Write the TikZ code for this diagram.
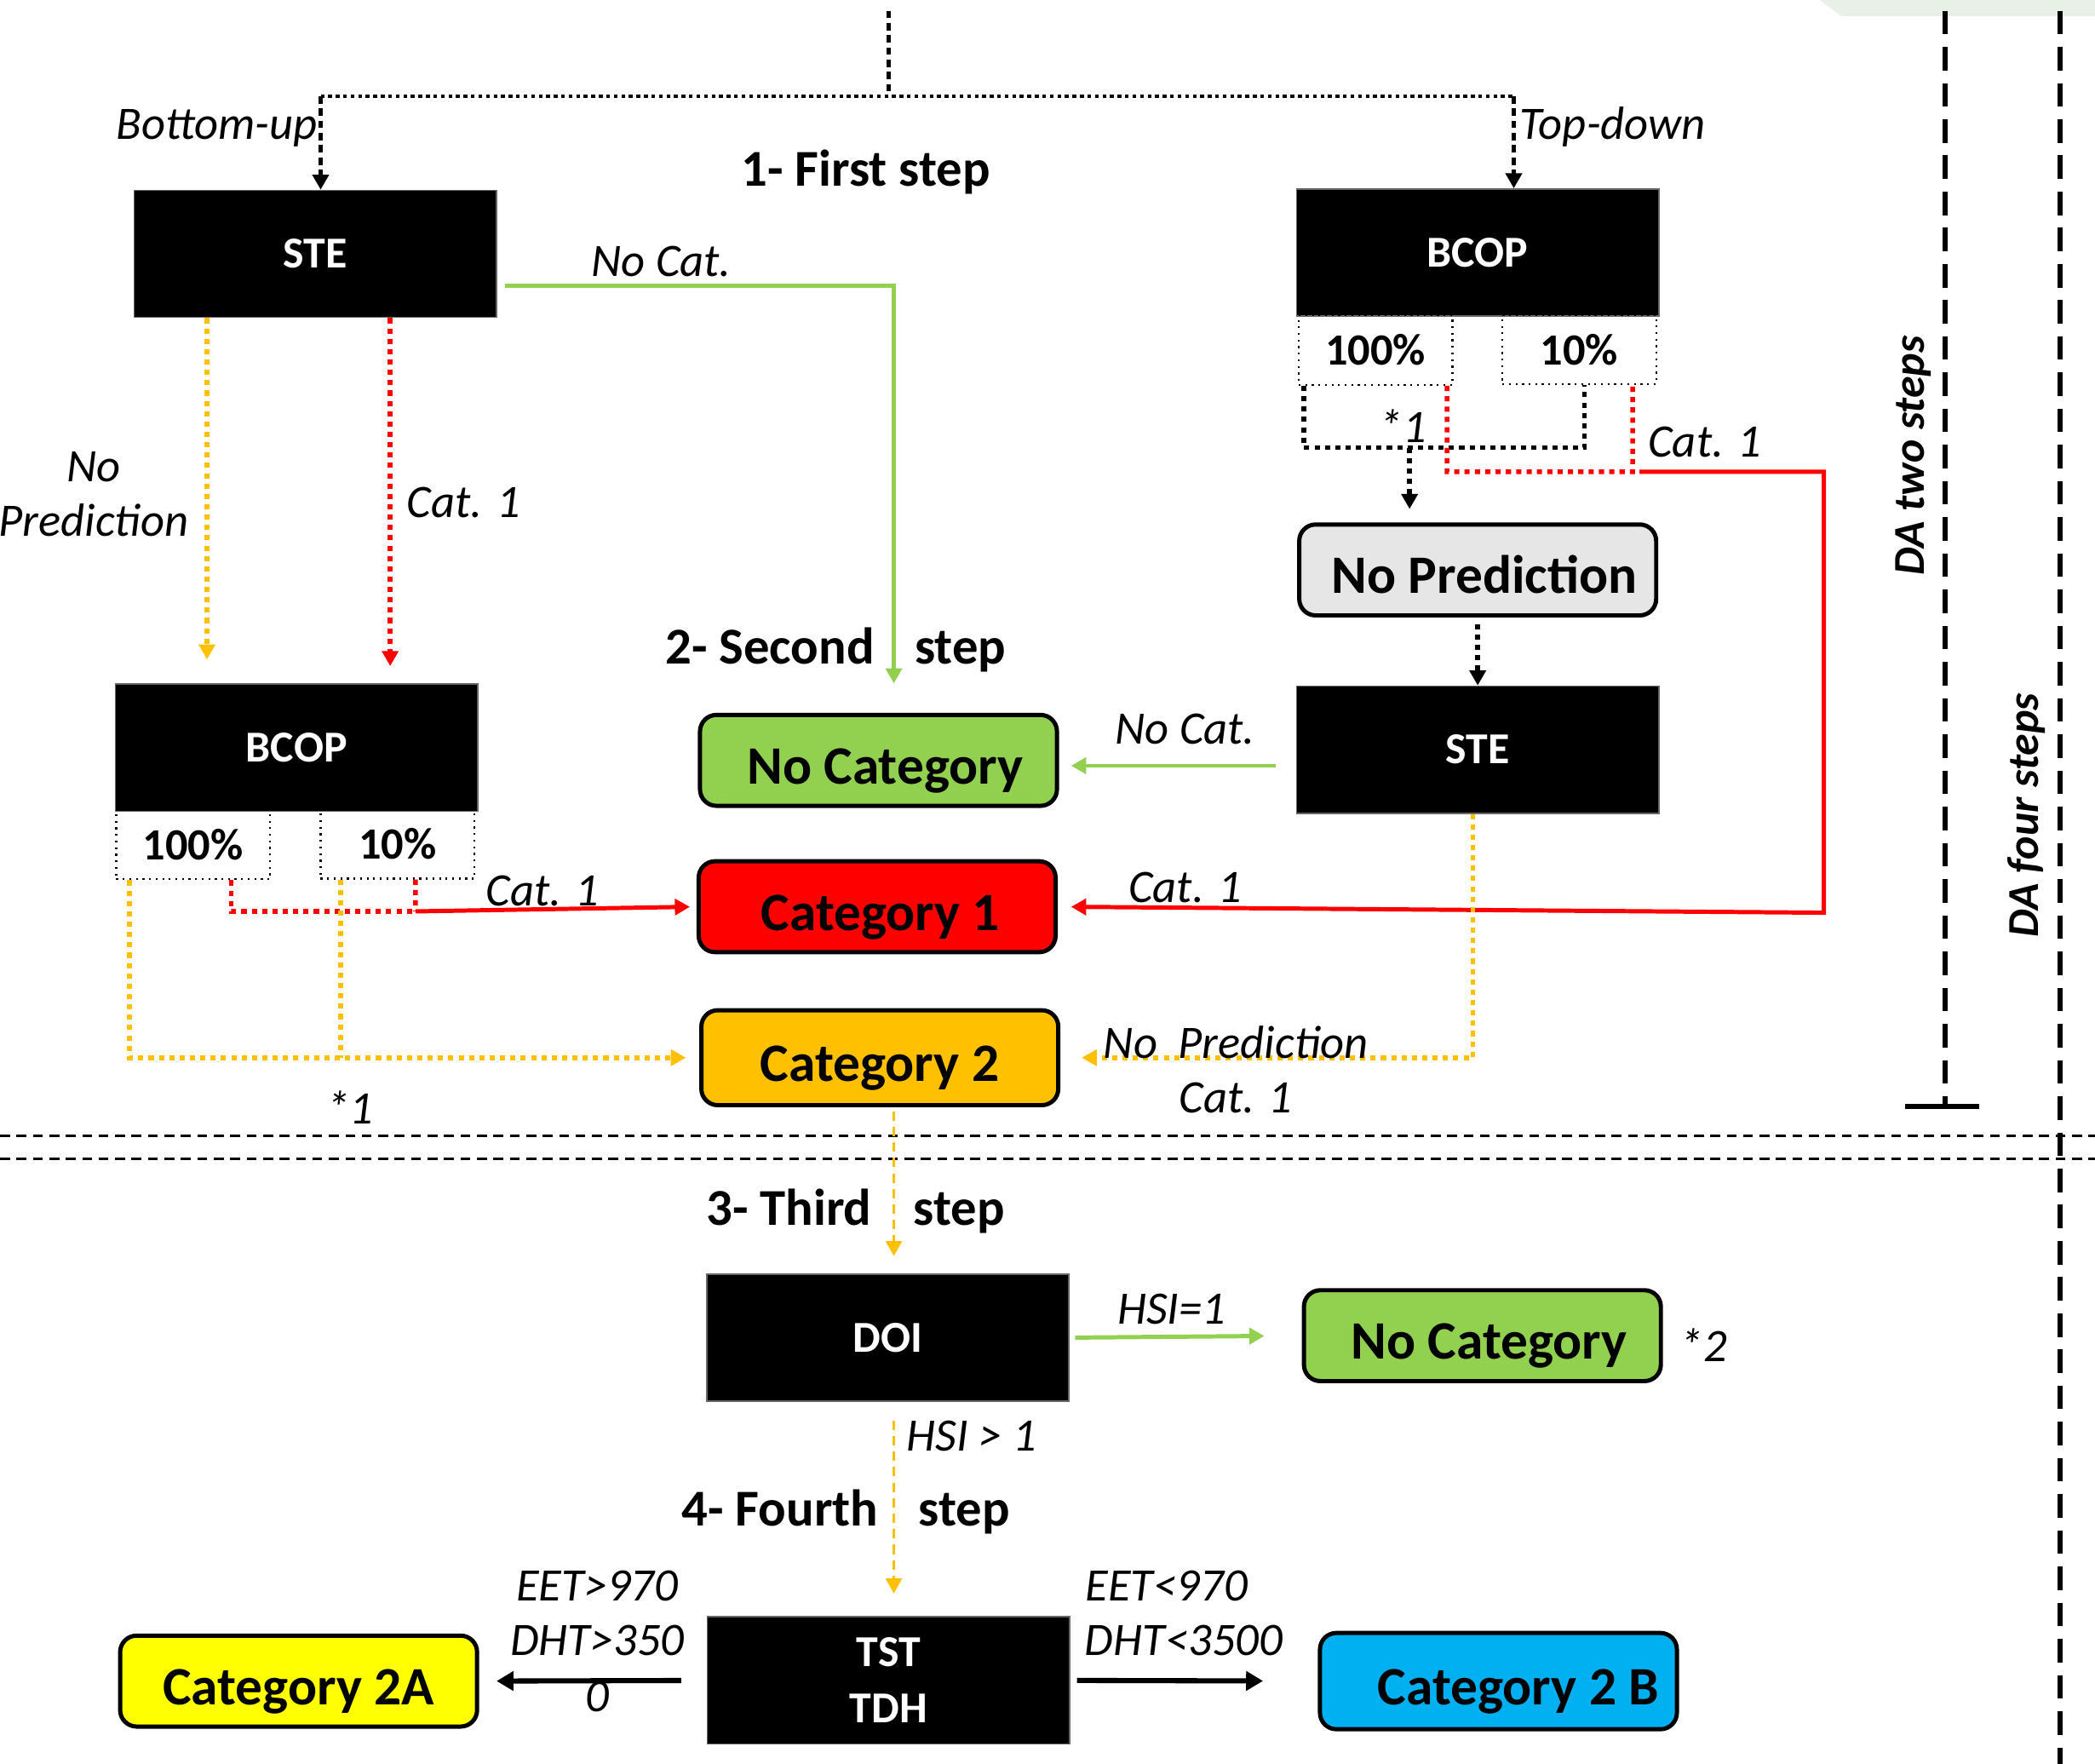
\documentclass[tikz,border=0pt]{standalone}
\usepackage{fontspec}
\setmainfont{Carlito}
\usepackage{xcolor}
\usetikzlibrary{arrows.meta}
\definecolor{catgreen}{HTML}{92D050}
\definecolor{catred}{HTML}{FF0000}
\definecolor{catorange}{HTML}{FFC000}
\definecolor{catyellow}{HTML}{FFFF00}
\definecolor{catblue}{HTML}{00B0F0}
\definecolor{npgray}{HTML}{E6E6E6}
\definecolor{blobgreen}{HTML}{E8F1E6}

\begin{document}
\begin{tikzpicture}[x=0.01cm, y=-0.01cm, >={Triangle[length=3.2pt,width=3.4pt]},
  blackbox/.style={fill=black, draw=black!60, line width=0.3pt, text=white, font=\bfseries\fontsize{9.4}{12}\selectfont, align=center, minimum width=2.71cm, minimum height=0.95cm, inner sep=0pt},
  pctbox/.style={draw, densely dotted, line width=0.4pt, font=\bfseries\fontsize{9.5}{11}\selectfont, minimum width=1.15cm, minimum height=0.52cm, inner sep=0pt},
  catbox/.style={draw, line width=0.9pt, rounded corners=3.5pt, font=\bfseries\fontsize{11.5}{13}\selectfont, minimum width=2.67cm, minimum height=0.68cm, inner sep=0pt, text height=10pt, text depth=0pt},
  lbl/.style={font=\itshape\fontsize{9.9}{11.6}\selectfont, inner sep=0pt},
  stephead/.style={font=\bfseries\fontsize{11}{13}\selectfont, inner sep=0pt},
  dalbl/.style={font=\bfseries\itshape\fontsize{9.4}{11}\selectfont, rotate=90, inner sep=0pt},
  greenline/.style={draw=catgreen, line width=0.9pt},
  redline/.style={draw=catred, line width=0.9pt},
  reddot/.style={draw=catred, line width=1pt, dash pattern=on 1.1pt off 1.1pt},
  orangedot/.style={draw=catorange, line width=1pt, dash pattern=on 1.1pt off 1.1pt},
  orangedash/.style={draw=catorange, line width=0.6pt, dash pattern=on 2pt off 1.3pt},
  blackdot/.style={draw=black, line width=1pt, dash pattern=on 1.1pt off 1.1pt},
  topdot/.style={draw=black, line width=0.8pt, dash pattern=on 0.8pt off 0.8pt},
  blackdash/.style={draw=black, line width=0.9pt, dash pattern=on 1.6pt off 1pt},
  sepline/.style={draw=black, line width=0.5pt, dash pattern=on 2.1pt off 1.4pt},
  daline/.style={draw=black, line width=1.1pt, dash pattern=on 5pt off 2.7pt},
  bigarrow/.style={draw=black, line width=1.1pt, -{Triangle[length=3.6pt,width=4pt]}}
]
\useasboundingbox (0,0) rectangle (1568,1320);
\fill[blobgreen] (1362,0) -- (1378,12) -- (1568,12) -- (1568,0) -- cycle;

% boxes of the first two steps
\node[blackbox] (steL) at (236,190) {STE};
\node[blackbox] (bcopR) at (1106,189) {BCOP};
\node[pctbox] (pR100) at (1029.5,262) {100\%};
\node[pctbox] (pR10) at (1182,261.5) {10\%};
\node[catbox, fill=npgray] (noPred) at (1106,426.5) {\hspace*{0.1cm}No Prediction};
\node[blackbox] (steR) at (1106,561) {STE};
\node[blackbox] (bcopL) at (222,559.5) {BCOP};
\node[pctbox] (pL100) at (144.5,632) {100\%};
\node[pctbox] (pL10) at (297.5,631.5) {10\%};
\node[catbox, fill=catgreen] (noCat1) at (657.5,569) {\hspace*{0.1cm}No Category};
\node[catbox, fill=catred] (cat1) at (656.5,678.5) {\hspace*{0.05cm}Category 1};
\node[catbox, fill=catorange, minimum height=0.71cm] (cat2) at (658.5,791.5) {Category 2};

% boxes of steps 3 and 4
\node[blackbox] (doi) at (664.5,1001) {DOI};
\node[catbox, fill=catgreen] (noCat2) at (1109.5,999.5) {\hspace*{0.1cm}No Category};
\node[blackbox] (tst) at (665,1257.5) {TST\\TDH};
\node[catbox, fill=catyellow] (cat2A) at (223.5,1258) {Category 2A};
\node[catbox, fill=catblue, minimum height=0.72cm] (cat2B) at (1121.5,1258) {\hspace*{0.3cm}Category 2 B};

% step titles
\node[stephead, anchor=base] (step1) at (648,139) {1- First step};
\node[stephead, anchor=base east] (step2) at (655,497) {2- Second};
\node[stephead, anchor=base west] (step2b) at (684,497) {step};
\node[stephead, anchor=base east] (step3) at (653,917) {3- Third};
\node[stephead, anchor=base west] (step3b) at (683,917) {step};
\node[stephead, anchor=base east] (step4) at (658,1142) {4- Fourth};
\node[stephead, anchor=base west] (step4b) at (687,1142) {step};

% split at the top
\coordinate (topIn) at (665,8);
\coordinate (split) at (665,72);
\coordinate (buCorner) at (240,72);
\coordinate (tdCorner) at (1133,72);
\draw[blackdash] (topIn) -- (split);
\draw[topdot] (buCorner) -- (tdCorner);
\draw[blackdash, ->] (buCorner) -- (buCorner |- steL.north);
\draw[blackdash, ->] (tdCorner) -- (tdCorner |- bcopR.north);
\node[lbl, anchor=base east] (buLbl) at (238,104) {Bottom-up};
\node[lbl, anchor=base west] (tdLbl) at (1137,104) {Top-down};

% bottom-up branch
\draw[greenline, ->, shorten <=0.06cm, shorten >=0.22cm] ([yshift=-0.24cm]steL.east) -| ([xshift=0.115cm]noCat1.north);
\node[lbl, anchor=base] (noCatL) at (495,207) {No Cat.};
\draw[orangedot, ->, shorten >=0.18cm] ([xshift=-0.81cm]steL.south) -- ([xshift=-0.81cm]steL.south |- bcopL.north);
\draw[reddot, ->, shorten >=0.13cm] ([xshift=0.56cm]steL.south) -- ([xshift=0.56cm]steL.south |- bcopL.north);
\node[lbl, align=center] (noPredL) at (70,370) {No\\Prediction};
\node[lbl, anchor=base] (cat1La) at (347,387) {Cat. 1};

\coordinate (redJoinL) at (311,682);
\draw[reddot] ([xshift=0.285cm]pL100.south) |- (redJoinL);
\draw[reddot] ([xshift=0.135cm]pL10.south) -- (redJoinL);
\draw[redline, ->, shorten >=0.05cm] (redJoinL) -- (cat1.west);
\node[lbl, anchor=base] (cat1Lb) at (406,678) {Cat. 1};
\draw[orangedot, ->, shorten >=0.1cm] ([xshift=-0.475cm]pL100.south) |- (cat2.west);
\draw[orangedot] ([xshift=-0.425cm]pL10.south) -- ([xshift=-0.425cm]pL10.south |- cat2.west);
\node[lbl, anchor=base] (starL) at (262,841) {*1};

% top-down branch
\coordinate (blkJoin) at (1055,335);
\draw[blackdot] ([xshift=-0.535cm]pR100.south) |- (blkJoin) -| ([xshift=0.04cm]pR10.south);
\draw[blackdot, ->, shorten >=0.1cm] (blkJoin) -- (blkJoin |- noPred.north);
\node[lbl, anchor=base] (starR) at (1050,331) {*1};
\coordinate (redJoinR) at (1222,353);
\coordinate (redTurn) at (1365,683);
\draw[reddot] ([xshift=0.535cm]pR100.south) |- (redJoinR) -- ([xshift=0.4cm]pR10.south);
\draw[redline, ->, shorten <=0.05cm, shorten >=0.1cm] (redJoinR) -| (redTurn) -- (cat1.east);
\node[lbl, anchor=base] (cat1Lc) at (1276,342) {Cat. 1};
\node[lbl, anchor=base] (cat1Ld) at (887,675) {Cat. 1};
\draw[blackdot, ->, shorten <=0.05cm] (noPred.south) -- (steR.north);
\draw[greenline, ->, shorten <=0.15cm, shorten >=0.09cm] ([yshift=-0.12cm]steR.west) -- ([yshift=-0.12cm]steR.west -| noCat1.east);
\node[lbl, anchor=base] (noCatR) at (887,557) {No Cat.};
\draw[orangedot, ->, shorten >=0.16cm] ([xshift=-0.035cm]steR.south) |- (cat2.east);
\node[lbl, anchor=base] (noPredR) at (925,792) {No\ \ Prediction};
\node[lbl, anchor=base] (cat1Le) at (925,833) {Cat. 1};

% separators
\coordinate (sepAL) at (0,850);
\coordinate (sepAR) at (1568,850);
\coordinate (sepBL) at (0,867);
\coordinate (sepBR) at (1568,867);
\draw[sepline] (sepAL) -- (sepAR);
\draw[sepline] (sepBL) -- (sepBR);

% steps 3 and 4
\draw[orangedash, ->, shorten <=0.03cm, shorten >=0.13cm] ([xshift=0.045cm]doi.north |- cat2.south) -- ([xshift=0.045cm]doi.north);
\draw[greenline, ->, shorten <=0.04cm, shorten >=0.28cm] (doi.east) -- (noCat2.west);
\node[lbl, anchor=base] (hsiOne) at (877,991) {HSI=1};
\node[lbl, anchor=base] (starTwo) at (1275,1019) {*2};
\draw[orangedash, ->, shorten <=0.14cm, shorten >=0.17cm] ([xshift=0.045cm]doi.south) -- ([xshift=0.045cm]doi.south |- tst.north);
\node[lbl, anchor=base west] (hsiMore) at (678,1086) {HSI > 1};
\draw[bigarrow, shorten <=0.19cm, shorten >=0.13cm] (tst.west) -- (cat2A.east);
\draw[bigarrow, shorten <=0.05cm, shorten >=0.41cm] (tst.east) -- (cat2B.west);
\node[lbl, anchor=base] (eetHi) at (447,1198) {EET>970};
\node[lbl, anchor=base] (dhtHi) at (447,1239) {DHT>350};
\node[lbl, anchor=base] (dhtHiB) at (447,1281) {0};
\node[lbl, anchor=base] (eetLo) at (873,1198) {EET<970};
\node[lbl, anchor=base] (dhtLo) at (886,1239) {DHT<3500};

% DA ranges
\coordinate (daTwoTop) at (1456,8);
\coordinate (daTwoEnd) at (1456,828);
\coordinate (daFourTop) at (1542,8);
\coordinate (daFourEnd) at (1542,1320);
\draw[daline] (daTwoTop) -- (daTwoEnd);
\draw[line width=1.1pt] ([xshift=-0.3cm]daTwoEnd) -- ([xshift=0.25cm]daTwoEnd);
\draw[daline] (daFourTop) -- (daFourEnd);
\node[dalbl] (daTwo) at (1432,341) {DA two steps};
\node[dalbl] (daFour) at (1517,610) {DA four steps};
\end{tikzpicture}
\end{document}
